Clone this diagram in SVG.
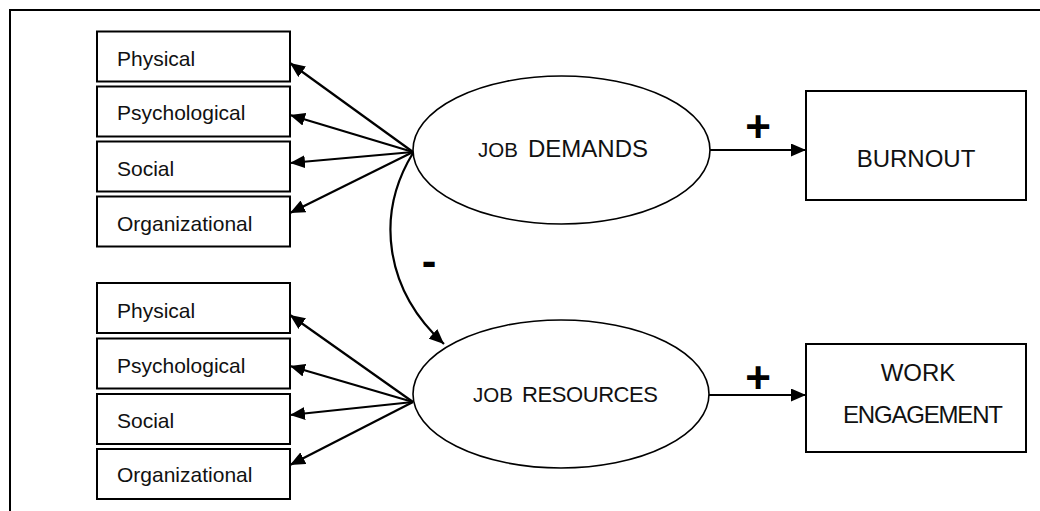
<svg xmlns="http://www.w3.org/2000/svg" width="1040" height="511" viewBox="0 0 1040 511">
<defs>
<style>
.box{fill:#fff;stroke:#000;stroke-width:2}
.ell{fill:#fff;stroke:#000;stroke-width:1.6}
.lbl{font-family:"Liberation Sans",Arial,sans-serif;font-size:21px;fill:#111}
.big{font-family:"Liberation Sans",Arial,sans-serif;font-size:24px;fill:#111}
.sign{font-family:"Liberation Sans",Arial,sans-serif;font-weight:bold;font-size:44px;fill:#000;text-anchor:middle}
.con{fill:none;stroke:#000;stroke-width:2.2;marker-end:url(#ah)}
</style>
<marker id="ah" markerUnits="userSpaceOnUse" markerWidth="15" markerHeight="13" refX="15" refY="6.5" orient="auto">
<path d="M0,0 L15,6.5 L0,13 z" fill="#000"/>
</marker>
</defs>
<rect x="0" y="0" width="1040" height="511" fill="#fff"/>
<rect id="frame" x="10" y="10" width="1040" height="520" fill="none" stroke="#000" stroke-width="2"/>

<g id="connectors">
<line class="con" x1="413" y1="152" x2="290" y2="63"/>
<line class="con" x1="413" y1="152" x2="290" y2="115"/>
<line class="con" x1="413" y1="152" x2="290" y2="163"/>
<line class="con" x1="413" y1="152" x2="290" y2="213"/>
<line class="con" x1="413" y1="402" x2="290" y2="315"/>
<line class="con" x1="413" y1="402" x2="290" y2="366"/>
<line class="con" x1="413" y1="402" x2="290" y2="415"/>
<line class="con" x1="413" y1="402" x2="290" y2="465"/>
<path class="con" d="M413,153 C375,215 385,290 444,344"/>
<line class="con" x1="710" y1="150" x2="806" y2="150"/>
<line class="con" x1="709" y1="395" x2="806" y2="395"/>
<text class="sign" x="758" y="142">+</text>
<text class="sign" x="758" y="393">+</text>
<text class="sign" x="429" y="276">-</text>
</g>

<g id="d-physical"><rect class="box" x="97" y="31.5" width="193" height="50"/><text class="lbl" x="117" y="66">Physical</text></g>
<g id="d-psychological"><rect class="box" x="97" y="86.5" width="193" height="50"/><text class="lbl" x="117" y="120">Psychological</text></g>
<g id="d-social"><rect class="box" x="97" y="141.5" width="193" height="50"/><text class="lbl" x="117" y="176">Social</text></g>
<g id="d-organizational"><rect class="box" x="97" y="196.5" width="193" height="50"/><text class="lbl" x="117" y="231">Organizational</text></g>

<g id="r-physical"><rect class="box" x="97" y="283" width="193" height="50"/><text class="lbl" x="117" y="318">Physical</text></g>
<g id="r-psychological"><rect class="box" x="97" y="338.5" width="193" height="50"/><text class="lbl" x="117" y="373">Psychological</text></g>
<g id="r-social"><rect class="box" x="97" y="394" width="193" height="50"/><text class="lbl" x="117" y="428">Social</text></g>
<g id="r-organizational"><rect class="box" x="97" y="449" width="193" height="50"/><text class="lbl" x="117" y="482">Organizational</text></g>

<g id="job-demands"><ellipse class="ell" cx="561.5" cy="150" rx="148.5" ry="74"/>
<text class="big" y="157"><tspan x="478" font-size="20.5">JOB</tspan> <tspan x="528">DEMANDS</tspan></text></g>
<g id="job-resources"><ellipse class="ell" cx="561" cy="394" rx="148" ry="74"/>
<text class="big" y="402"><tspan x="473" font-size="20.5">JOB</tspan> <tspan x="522" font-size="22" textLength="136">RESOURCES</tspan></text></g>

<g id="burnout"><rect class="box" x="806" y="91" width="220" height="109"/><text class="big" x="916" y="167" text-anchor="middle">BURNOUT</text></g>
<g id="work-engagement"><rect class="box" x="806" y="344" width="220" height="108"/>
<text class="big" text-anchor="middle"><tspan x="918" y="381">WORK</tspan><tspan x="923" y="423" textLength="160">ENGAGEMENT</tspan></text></g>
</svg>
